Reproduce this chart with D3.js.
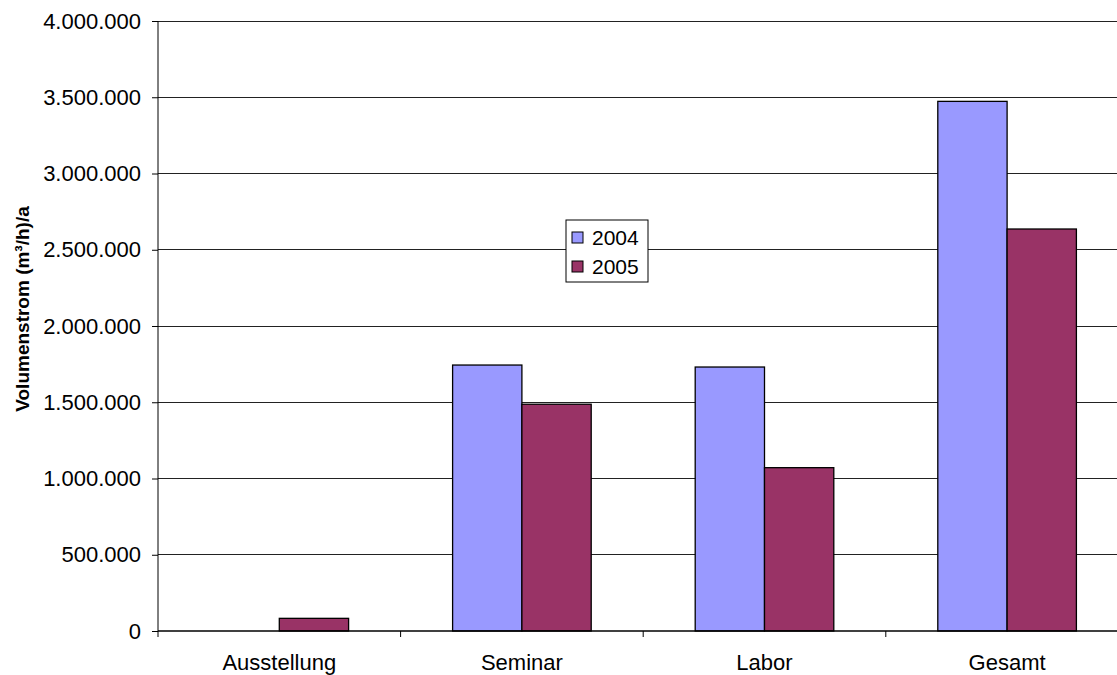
<!DOCTYPE html>
<html>
<head>
<meta charset="utf-8">
<script src="https://cdn.jsdelivr.net/npm/d3@7"></script>
<style>
  html, body { margin: 0; padding: 0; background: #fff; }
  svg { display: block; font-family: "Liberation Sans", Arial, sans-serif; }
</style>
</head>
<body>
<svg id="chart" width="1117" height="675"></svg>
<script>
const categories = ["Ausstellung", "Seminar", "Labor", "Gesamt"];
const seriesNames = ["2004", "2005"];
const values2004 = [0, 1744000, 1731000, 3473000];
const values2005 = [83000, 1487000, 1071000, 2636000];
const yTicks = [0, 500000, 1000000, 1500000, 2000000, 2500000, 3000000, 3500000, 4000000];
const yLabel = "Volumenstrom (m³/h)/a";
const colors = ["#9999FF", "#993366"];

(function () {
const svg = d3.select("#chart");
const mLeft = 158, mRight = 1128.4, mTop = 21, mBottom = 631;

const x0 = d3.scaleBand().domain(categories).range([mLeft, mRight]).padding(0);
const x1 = d3.scaleBand().domain(seriesNames).range([52, x0.bandwidth() - 52]).padding(0);
const y = d3.scaleLinear().domain([0, 4000000]).range([mBottom, mTop]);

const fmt = v => d3.format(",")(v).replace(/,/g, ".");

// gridlines
svg.append("g").selectAll("line").data(yTicks.filter(t => t > 0)).join("line")
  .attr("x1", mLeft).attr("x2", mRight)
  .attr("y1", d => y(d)).attr("y2", d => y(d))
  .attr("stroke", "#222").attr("stroke-width", 1).attr("shape-rendering", "crispEdges");

// bars
const rows = categories.map((c, i) => ({ c, vals: [values2004[i], values2005[i]] }));
const g = svg.append("g");
rows.forEach(r => {
  r.vals.forEach((v, j) => {
    if (v <= 0) return;
    g.append("rect")
      .attr("x", x0(r.c) + x1(seriesNames[j]))
      .attr("y", y(v))
      .attr("width", x1.bandwidth())
      .attr("height", y(0) - y(v))
      .attr("fill", colors[j])
      .attr("stroke", "#000").attr("stroke-width", 1.3);
  });
});

// y axis
const yAxis = d3.axisLeft(y).tickValues(yTicks).tickFormat(fmt).tickSize(6).tickPadding(11);
const ya = svg.append("g").attr("transform", `translate(${mLeft},0)`).call(yAxis);
ya.select(".domain").attr("stroke", "#000").attr("d", `M0,${mTop}V${mBottom}`);
ya.selectAll(".tick line").attr("stroke", "#000");
ya.selectAll("text").attr("font-size", 22).attr("fill", "#000")
  .attr("font-family", "'Liberation Sans', Arial, sans-serif");

// x axis
const boundaries = d3.range(categories.length + 1).map(i => mLeft + i * x0.step());
svg.append("line").attr("x1", mLeft).attr("x2", mRight).attr("y1", mBottom).attr("y2", mBottom)
  .attr("stroke", "#000").attr("stroke-width", 1.3);
svg.append("g").selectAll("line").data(boundaries).join("line")
  .attr("x1", d => d).attr("x2", d => d).attr("y1", mBottom).attr("y2", mBottom + 6)
  .attr("stroke", "#000");
svg.append("g").selectAll("text").data(categories).join("text")
  .attr("x", d => x0(d) + x0.bandwidth() / 2).attr("y", 670)
  .attr("text-anchor", "middle").attr("font-size", 22).attr("fill", "#000")
  .text(d => d);

// y label
svg.append("text")
  .attr("transform", `translate(29,309) rotate(-90)`)
  .attr("text-anchor", "middle").attr("font-size", 19).attr("font-weight", "bold")
  .attr("fill", "#000").text(yLabel);

// legend
const lg = svg.append("g").attr("transform", "translate(566,220)");
lg.append("rect").attr("width", 82).attr("height", 62).attr("fill", "#fff").attr("stroke", "#000");
seriesNames.forEach((s, i) => {
  lg.append("rect").attr("x", 6).attr("y", 12 + i * 29).attr("width", 11).attr("height", 11)
    .attr("fill", colors[i]).attr("stroke", "#000");
  lg.append("text").attr("x", 26).attr("y", 25 + i * 29).attr("font-size", 21).attr("fill", "#000").text(s);
});
})();
</script>
</body>
</html>
